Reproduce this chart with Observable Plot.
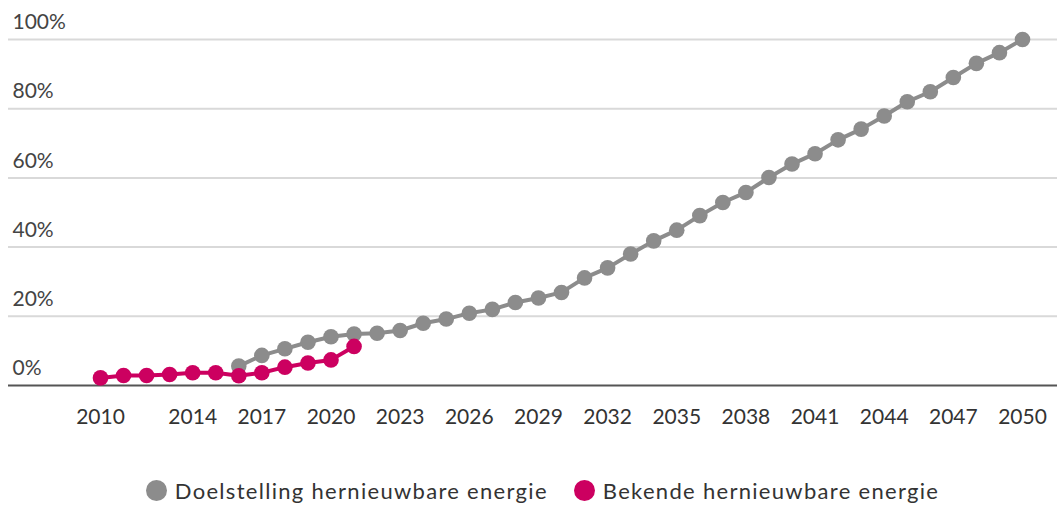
<!DOCTYPE html>
<html>
<head>
<meta charset="utf-8">
<script src="https://cdn.jsdelivr.net/npm/d3@7"></script>
<script src="https://cdn.jsdelivr.net/npm/@observablehq/plot@0.6"></script>
<style>
  html, body { margin: 0; padding: 0; background: #fff; }
  body { width: 1057px; height: 506px; overflow: hidden; font-family: Lato, "Open Sans", sans-serif; }
  #legend { position: absolute; top: 477px; left: 0; width: 1057px; display: flex; justify-content: center; gap: 26px; font-size: 22px; letter-spacing: 1.3px; color: #333; padding-left: 28px; box-sizing: border-box; }
  .item { display: flex; align-items: center; gap: 8px; }
  .sw { width: 21px; height: 21px; border-radius: 50%; display: inline-block; }
</style>
</head>
<body>
<div id="chart"></div>
<div id="legend"></div>
<script>
const targetYears = d3.range(2016, 2051);
const targetValues = [5.6, 8.7, 10.6, 12.5, 14.1, 14.9, 15.1, 15.9, 18.0, 19.2, 20.9, 22.0, 24.0, 25.3, 26.9, 31.1, 34.0, 38.0, 41.8, 44.9, 49.1, 52.9, 55.8, 60.1, 64.0, 67.0, 71.0, 74.1, 77.9, 82.0, 84.9, 89.0, 93.1, 96.2, 100];
const knownYears = d3.range(2010, 2022);
const knownValues = [2.2, 2.9, 2.9, 3.2, 3.7, 3.7, 2.8, 3.7, 5.3, 6.5, 7.4, 11.3];
const xTicks = [2010, 2014, 2017, 2020, 2023, 2026, 2029, 2032, 2035, 2038, 2041, 2044, 2047, 2050];
const yTicks = [0, 20, 40, 60, 80, 100];
const seriesNames = ["Doelstelling hernieuwbare energie", "Bekende hernieuwbare energie"];
const seriesColors = ["#8c8c8c", "#cc0060"];

const target = targetYears.map((y, i) => ({year: y, value: targetValues[i]}));
const known = knownYears.map((y, i) => ({year: y, value: knownValues[i]}));

const chart = Plot.plot({
  width: 1057,
  height: 460,
  marginLeft: 100,
  marginRight: 35,
  marginTop: 39,
  marginBottom: 75,
  style: {fontFamily: "Lato, 'Open Sans', sans-serif", fontSize: "21px", color: "#333", background: "#fff", overflow: "visible"},
  x: {domain: [2010, 2050]},
  y: {domain: [0, 100]},
  marks: [
    Plot.gridY(yTicks.filter(d => d > 0), {stroke: "#d9d9d9", strokeOpacity: 1, strokeWidth: 2, insetLeft: -92, insetRight: -35}),
    Plot.ruleY([0], {stroke: "#555", strokeWidth: 2, insetLeft: -92, insetRight: -35}),
    Plot.axisY({ticks: yTicks, tickSize: 0, tickPadding: 0, textAnchor: "start", dx: -88, dy: -17, tickFormat: d => d + "%", label: null, fill: "#444", fontSize: 21}),
    Plot.axisX({ticks: xTicks, tickSize: 0, tickPadding: 24, tickFormat: d => String(d), label: null, fill: "#333", fontSize: 21}),
    Plot.line(target, {x: "year", y: "value", stroke: seriesColors[0], strokeWidth: 4}),
    Plot.dot(target, {x: "year", y: "value", r: 7.8, fill: seriesColors[0]}),
    Plot.line(known, {x: "year", y: "value", stroke: seriesColors[1], strokeWidth: 4}),
    Plot.dot(known, {x: "year", y: "value", r: 7.8, fill: seriesColors[1]})
  ]
});
document.getElementById("chart").appendChild(chart);

const legend = document.getElementById("legend");
seriesNames.forEach((n, i) => {
  const it = document.createElement("div");
  it.className = "item";
  const sw = document.createElement("span");
  sw.className = "sw";
  sw.style.background = seriesColors[i];
  const t = document.createElement("span");
  t.textContent = n;
  it.appendChild(sw); it.appendChild(t);
  legend.appendChild(it);
});
</script>
</body>
</html>
